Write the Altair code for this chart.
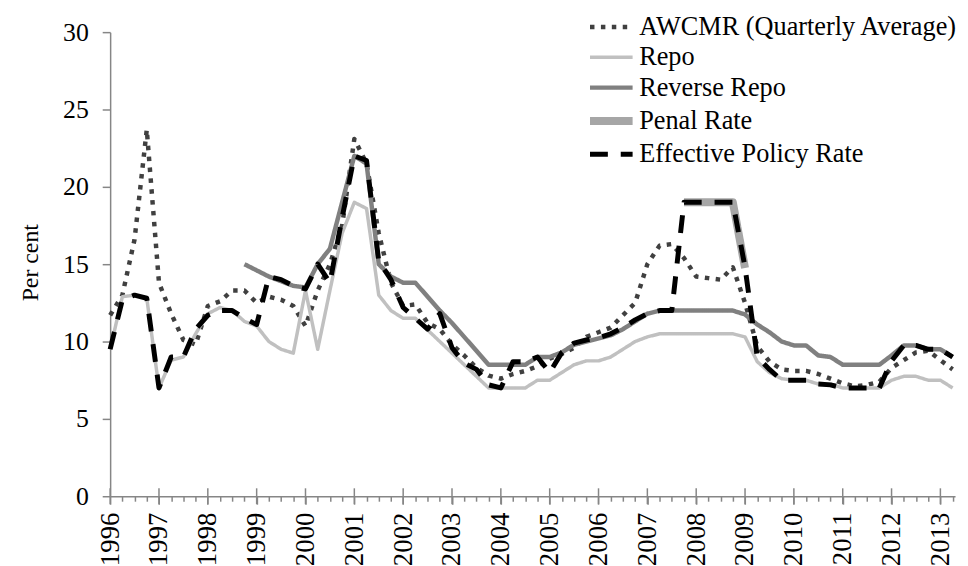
import altair as alt
import pandas as pd

FONT = "Liberation Serif"

# quarterly observations, 1996 Q1 .. 2013 Q2
quarters = [1996 + i / 4 for i in range(70)]
year_ticks = list(range(1996, 2014))
y_ticks = [0, 5, 10, 15, 20, 25, 30]

series_names = ["AWCMR (Quarterly Average)", "Repo", "Reverse Repo",
                "Penal Rate", "Effective Policy Rate"]

awcmr = [11.7, 13.0, 16.6, 23.7, 13.8, 11.8, 10.1, 9.8, 12.3, 12.6,
         13.3, 13.3, 12.5, 12.9, 12.7, 12.3, 11.0, 13.3, 15.0, 17.5,
         23.1, 21.5, 17.0, 13.8, 12.3, 12.4, 11.2, 10.8, 9.8, 9.1,
         8.3, 7.8, 7.6, 7.9, 8.1, 8.4, 8.9, 9.2, 9.6, 10.3,
         10.6, 10.9, 11.7, 12.5, 15.0, 16.2, 16.3, 15.4, 14.2, 14.1,
         14.0, 14.8, 12.5, 9.7, 8.7, 8.2, 8.1, 8.1, 7.9, 7.6,
         7.3, 7.1, 7.2, 7.4, 8.3, 8.8, 9.3, 9.4, 8.8, 8.2]

repo = [9.5, 12.9, 13.0, 12.8, 7.0, 8.8, 9.0, 10.5, 11.8, 12.2,
        12.0, 11.3, 11.0, 10.0, 9.5, 9.25, 13.3, 9.5, 13.3, 17.0,
        19.0, 18.6, 13.0, 12.0, 11.5, 11.5, 10.75, 10.0, 9.25, 8.5,
        7.75, 7.0, 7.0, 7.0, 7.0, 7.5, 7.5, 8.0, 8.5, 8.75,
        8.75, 9.0, 9.5, 10.0, 10.3, 10.5, 10.5, 10.5, 10.5, 10.5,
        10.5, 10.5, 10.3, 8.7, 8.0, 7.6, 7.5, 7.5, 7.25, 7.25,
        7.0, 7.0, 7.0, 7.0, 7.5, 7.75, 7.75, 7.5, 7.5, 7.0]

reverse_repo = [None, None, None, None, None, None, None, None, None, None,
                None, 15.0, 14.6, 14.2, 13.9, 13.6, 13.5, 15.0, 16.0, 19.0,
                22.0, 21.5, 15.0, 14.2, 13.8, 13.8, 12.9, 12.0, 11.2, 10.3,
                9.4, 8.5, 8.5, 8.5, 8.5, 9.0, 9.0, 9.3, 9.8, 10.0,
                10.2, 10.4, 10.8, 11.3, 11.8, 12.0, 12.0, 12.0, 12.0, 12.0,
                12.0, 12.0, 11.75, 11.1, 10.6, 10.0, 9.75, 9.75, 9.1, 9.0,
                8.5, 8.5, 8.5, 8.5, 9.1, 9.75, 9.75, 9.5, 9.5, 9.0]

penal = [None] * 47 + [19.0, 19.0, 19.0, 19.0, 19.0, 14.75] + [None] * 17

effective = [9.5, 12.7, 13.0, 12.8, 7.0, 9.0, 9.0, 10.8, 11.7, 12.0,
             12.0, 11.5, 11.1, 14.2, 14.0, 13.6, 13.4, 15.0, 13.8, 18.0,
             22.0, 21.7, 15.2, 14.0, 12.2, 11.5, 10.8, 11.8, 9.6, 8.6,
             8.2, 7.2, 7.0, 8.7, 8.7, 9.0, 8.0, 9.3, 9.9, 10.1,
             10.25, 10.5, 10.9, 11.4, 11.8, 12.0, 12.0, 19.0, 19.0, 19.0,
             19.0, 19.0, 14.8, 9.0, 8.2, 7.5, 7.5, 7.5, 7.25, 7.2,
             7.0, 7.0, 7.0, 7.0, 8.75, 9.75, 9.75, 9.5, 9.5, 9.0]

colors = ["#404040", "#c0c0c0", "#808080", "#a6a6a6", "#000000"]
dashes = [[4.5, 6.5], [1, 0], [1, 0], [1, 0], [18, 13]]
widths = [4.5, 3.5, 4.5, 8, 5]

rows = []
for name, vals in zip(series_names, [awcmr, repo, reverse_repo, penal, effective]):
    for t, v in zip(quarters, vals):
        if v is not None:
            rows.append({"t": t, "rate": v, "series": name})
df = pd.DataFrame(rows)
ticks_df = pd.DataFrame({"t": year_ticks, "rate": [0] * len(year_ticks)})

xscale = alt.Scale(domain=[1996, 2013.3], nice=False, zero=False)
yscale = alt.Scale(domain=[0, 30], nice=False)

x_axis = alt.Axis(values=quarters, grid=False,
                  labelExpr="datum.value % 1 === 0 ? format(datum.value, 'd') : ''",
                  labelAngle=270, labelAlign="right", labelBaseline="middle",
                  labelFont=FONT, labelFontSize=27, labelColor="#000000",
                  labelPadding=8, labelOverlap=False, labelFlush=False,
                  labelBound=False,
                  tickSize={"condition": {"test": "datum.value % 1 === 0", "value": 8},
                            "value": 5},
                  tickColor="#868686", tickWidth=1.5,
                  domainColor="#868686", domainWidth=1.5)
y_axis = alt.Axis(values=y_ticks, grid=False, tickSize=8,
                  tickColor="#868686", tickWidth=1.5,
                  domainColor="#868686", domainWidth=1.5,
                  labelFont=FONT, labelFontSize=26, labelColor="#000000",
                  labelPadding=14,
                  titleFont=FONT, titleFontSize=24, titleFontWeight="normal",
                  titleColor="#000000", titleAngle=270, titleX=-80, titleY=232,
                  titleAlign="center", titleBaseline="middle")

lines = alt.Chart(df).mark_line(strokeJoin="round", strokeCap="butt").encode(
    x=alt.X("t:Q", scale=xscale, title=None, axis=x_axis),
    y=alt.Y("rate:Q", scale=yscale, title="Per cent", axis=y_axis),
    color=alt.Color("series:N", title=None,
                    scale=alt.Scale(domain=series_names, range=colors),
                    legend=alt.Legend(orient="none", legendX=500, legendY=-18.5,
                                      padding=0, labelFont=FONT, labelFontSize=26.5,
                                      labelColor="#000000", labelLimit=500,
                                      labelOffset=7, rowPadding=3.6,
                                      symbolType="M-4.1,0H1.9", symbolSize=205)),
    strokeDash=alt.StrokeDash("series:N", title=None,
                              scale=alt.Scale(domain=series_names, range=dashes)),
    strokeWidth=alt.StrokeWidth("series:N", title=None,
                                scale=alt.Scale(type="ordinal", domain=series_names,
                                                range=widths)),
)

year_marks = alt.Chart(ticks_df).mark_tick(
    orient="vertical", size=16, thickness=1.5, color="#868686", opacity=1
).encode(
    x=alt.X("t:Q", scale=xscale, title=None, axis=x_axis),
    y=alt.Y("rate:Q", scale=yscale, title="Per cent", axis=y_axis),
)

chart = alt.layer(year_marks, lines).properties(
    width=852, height=468, autosize="none",
    padding={"left": 103, "top": 22, "right": 5, "bottom": 68},
).configure_view(stroke=None)

chart.save("out.html", embed_options={"renderer": "svg", "actions": False})
